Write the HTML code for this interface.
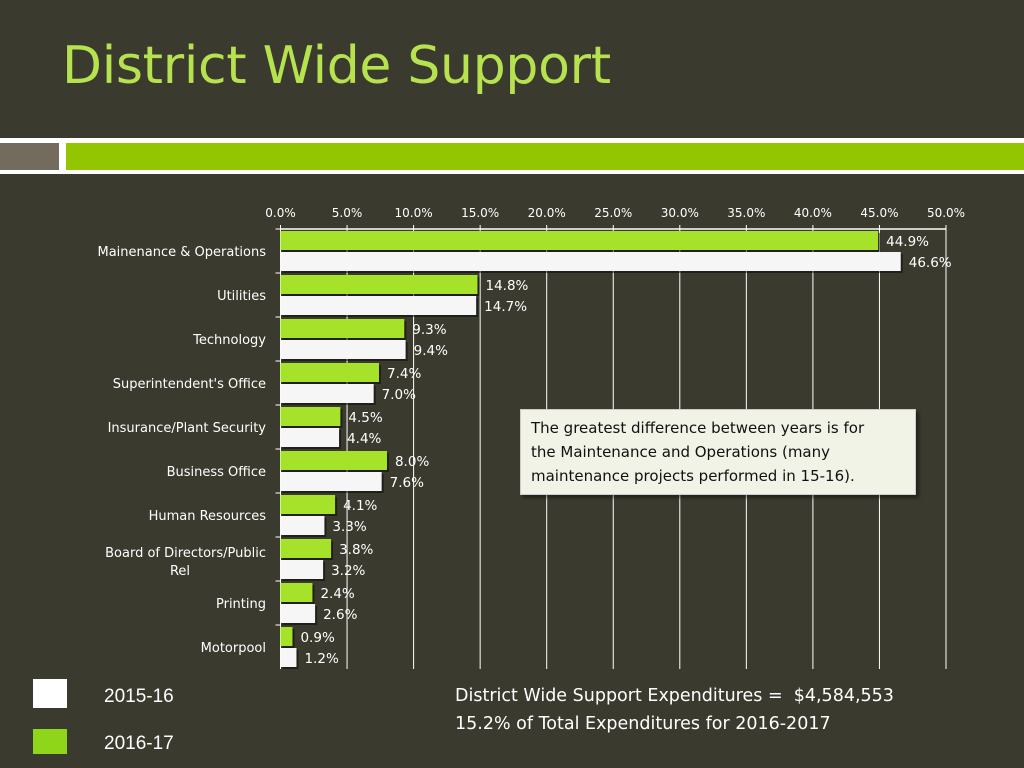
<!DOCTYPE html>
<html><head><meta charset="utf-8"><style>
body{margin:0;width:1024px;height:768px;background:#3b3a2e;overflow:hidden;position:relative;font-family:"Liberation Sans",sans-serif}
.abs{position:absolute}
</style></head><body>
<div class="abs" style="left:62px;top:36px;font-size:52px;color:#b5e24e;font-family:'DejaVu Sans',sans-serif;letter-spacing:-0.3px">District Wide Support</div>
<div class="abs" style="left:0;top:138px;width:1024px;height:36px;background:#fff"></div>
<div class="abs" style="left:0;top:143px;width:59px;height:27px;background:#736b5e"></div>
<div class="abs" style="left:66px;top:143px;width:958px;height:27px;background:#93c500"></div>
<svg class="abs" style="left:0;top:0" width="1024" height="768" id="chart"></svg>
<div class="abs" style="left:520px;top:409px;width:374px;height:72px;padding:6px 10px;background:#f1f3e6;border:1px solid #ccc;box-shadow:3px 3px 3px rgba(0,0,0,.4);font-family:'DejaVu Sans',sans-serif;font-size:15px;line-height:24px;color:#111"><div style="width:360px">The greatest difference between years is for the Maintenance and Operations (many maintenance projects performed in 15-16).</div></div>
<div class="abs" style="left:33px;top:679px;width:34px;height:29px;background:#fff"></div>
<div class="abs" style="left:104px;top:686px;font-size:19px;color:#fff">2015-16</div>
<div class="abs" style="left:33px;top:729px;width:34px;height:25px;background:#8fd61a"></div>
<div class="abs" style="left:104px;top:733px;font-size:19px;color:#fff">2016-17</div>
<div class="abs" style="left:455px;top:682px;font-family:'DejaVu Sans',sans-serif;font-size:17.5px;line-height:28px;color:#fff">District Wide Support Expenditures =&nbsp; $4,584,553<br>15.2% of Total Expenditures for 2016-2017</div>
<script>
const categories=["Mainenance & Operations","Utilities","Technology","Superintendent's Office","Insurance/Plant Security","Business Office","Human Resources","Board of Directors/Public Rel","Printing","Motorpool"];
const values1617=[44.9,14.8,9.3,7.4,4.5,8.0,4.1,3.8,2.4,0.9];
const values1516=[46.6,14.7,9.4,7.0,4.4,7.6,3.3,3.2,2.6,1.2];
const ticks=[0,5,10,15,20,25,30,35,40,45,50];
const NS="http://www.w3.org/2000/svg";
const svg=document.getElementById('chart');
const x0=280.5,x1=946,y0=229,band=44;
const xs=v=>x0+(v/50)*(x1-x0);
const ys=i=>y0+i*band;
function mk(t,a,p){const e=document.createElementNS(NS,t);for(const k in a)e.setAttribute(k,a[k]);(p||svg).appendChild(e);return e;}
ticks.forEach(t=>{
 const g=mk('line',{x1:xs(t),x2:xs(t),y1:y0-4,y2:y0+band*10,stroke:'#fff','stroke-width':1});
 
 
 const l=mk('text',{x:xs(t),y:217,'text-anchor':'middle',fill:'#fff','font-size':12,'font-family':'DejaVu Sans, sans-serif'});
 l.textContent=t.toFixed(1)+'%';
 
 
});
const ax=mk('line',{x1:x0,x2:x1,y1:y0,y2:y0,stroke:'#fff','stroke-width':1.5});


const ay=mk('line',{x1:x0,x2:x0,y1:y0,y2:y0+band*10,stroke:'#fff','stroke-width':1});


categories.forEach((c,i)=>{
 const y=ys(i);
 const tk=mk('line',{x1:x0-5,x2:x0,y1:y,y2:y,stroke:'#fff'});
 
 
 const lab=mk('text',{x:266,y:y+band/2+5,'text-anchor':'end',fill:'#fff','font-size':13,'font-family':'DejaVu Sans, sans-serif'});
 
 
 if(c.length>26){const p=c.lastIndexOf(' ');lab.setAttribute('y',y+band/2-2);
  const a=mk('tspan',{x:266},lab);a.textContent=c.slice(0,p);
  const b=mk('tspan',{x:190,dy:18},lab);b.textContent=c.slice(p+1);}
 else lab.textContent=c;
 [[values1617[i],'#a6e22a',y+2],[values1516[i],'#f6f6f6',y+23]].forEach(([v,col,by],k)=>{
  const sh=mk('rect',{x:x0+2,y:by+2,width:xs(v)-x0,height:19,fill:'rgba(0,0,0,0.45)'});
  
  
  const r=mk('rect',{x:x0,y:by,width:xs(v)-x0,height:19,fill:col});
  
  
  const t=mk('text',{x:xs(v)+8,y:by+15,fill:'#fff','font-size':13.5,'font-family':'DejaVu Sans, sans-serif'});
  t.textContent=v.toFixed(1)+'%';
  
  
 });
});
</script>
</body></html>
